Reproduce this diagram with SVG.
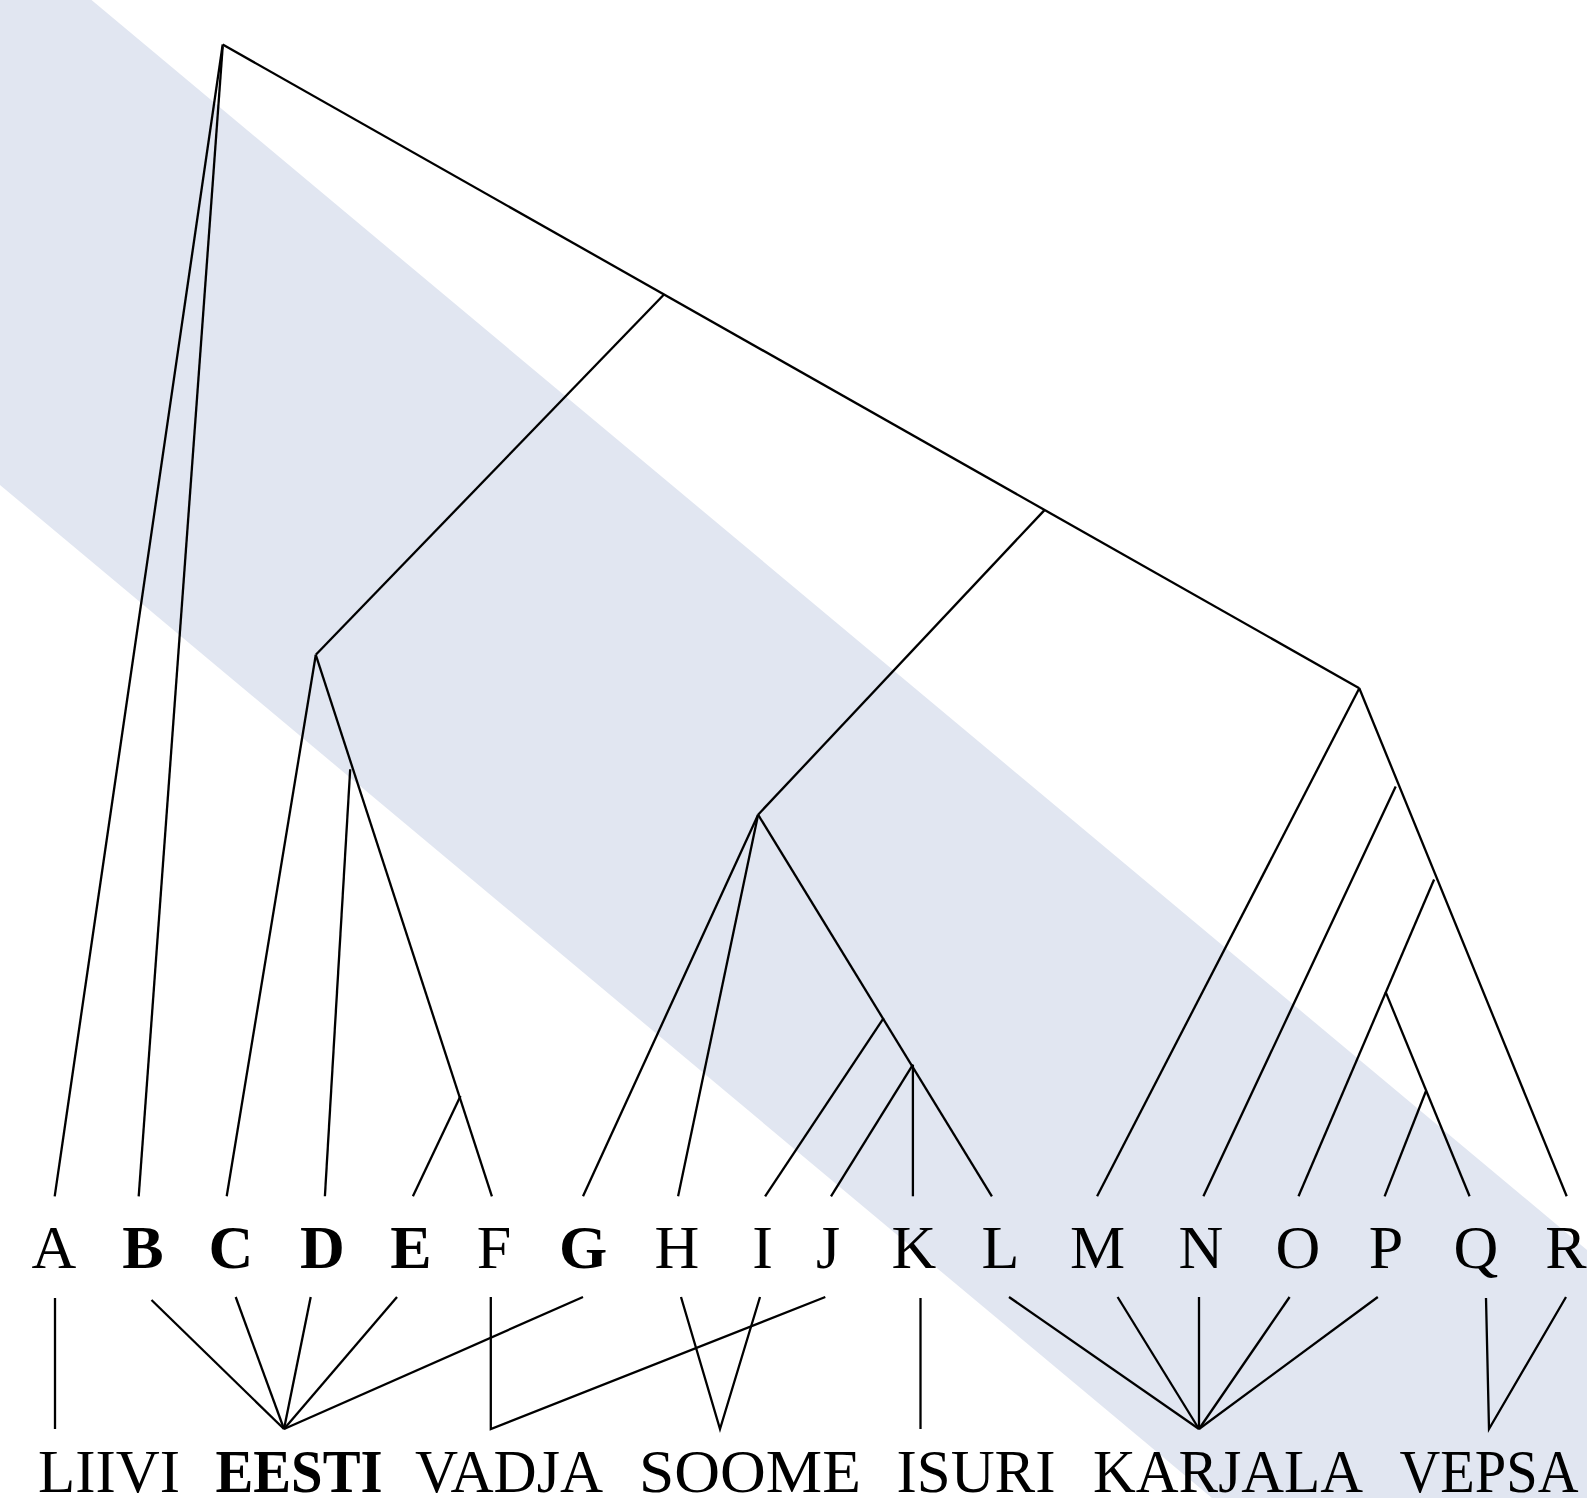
<svg xmlns="http://www.w3.org/2000/svg" width="1587" height="1498" viewBox="0 0 1587 1498">
<style>
.ln{stroke:#000;stroke-width:2.3;fill:none;stroke-linecap:butt}
.lt{font-family:"Liberation Serif","Times New Roman",serif;font-size:62px;fill:#000;text-anchor:middle}
.b{font-weight:bold}
.lang{font-family:"Liberation Serif","Times New Roman",serif;font-size:62px;fill:#000;text-anchor:middle}
</style>
<rect width="1587" height="1498" fill="#ffffff"/>
<polygon id="band" points="0,0 91.5,0 1587,1250 1587,1498 1212,1498 0,485" fill="#e1e6f1"/>
<g id="connectors">
<line class="ln" x1="222.7" y1="44.5" x2="1359.3" y2="688.2"/>
<line class="ln" x1="222.7" y1="44.5" x2="54.7" y2="1196.3"/>
<line class="ln" x1="222.7" y1="46.5" x2="138.7" y2="1196.3"/>
<line class="ln" x1="664" y1="294.5" x2="315.8" y2="654.8"/>
<line class="ln" x1="315.8" y1="654.8" x2="226.7" y2="1196.3"/>
<line class="ln" x1="315.8" y1="654.8" x2="491.9" y2="1196.3"/>
<line class="ln" x1="350.2" y1="769.2" x2="324.9" y2="1196.3"/>
<line class="ln" x1="460.5" y1="1096.1" x2="412.9" y2="1196.3"/>
<line class="ln" x1="1044.5" y1="510.1" x2="758.1" y2="814.7"/>
<line class="ln" x1="758.1" y1="814.7" x2="583" y2="1196.3"/>
<line class="ln" x1="758.1" y1="814.7" x2="678.1" y2="1196.3"/>
<line class="ln" x1="758.1" y1="814.7" x2="991.9" y2="1196.3"/>
<line class="ln" x1="883.6" y1="1018.2" x2="765.1" y2="1196.3"/>
<line class="ln" x1="912.9" y1="1064.7" x2="831" y2="1196.3"/>
<line class="ln" x1="912.9" y1="1064.7" x2="912.9" y2="1196.3"/>
<line class="ln" x1="1359.3" y1="688.2" x2="1097.1" y2="1196.3"/>
<line class="ln" x1="1359.3" y1="688.2" x2="1566.7" y2="1196.3"/>
<line class="ln" x1="1395.7" y1="786.4" x2="1203.4" y2="1196.3"/>
<line class="ln" x1="1434.1" y1="879.5" x2="1298.5" y2="1196.3"/>
<line class="ln" x1="1385.6" y1="991.9" x2="1469.6" y2="1196.3"/>
<line class="ln" x1="1426" y1="1091" x2="1384.6" y2="1196.3"/>
<line class="ln" x1="55" y1="1298" x2="55" y2="1429"/>
<line class="ln" x1="151.5" y1="1300" x2="284" y2="1429"/>
<line class="ln" x1="235.7" y1="1297" x2="284" y2="1429"/>
<line class="ln" x1="310.7" y1="1297" x2="284" y2="1429"/>
<line class="ln" x1="397" y1="1297" x2="284" y2="1429"/>
<line class="ln" x1="583" y1="1297" x2="284" y2="1429"/>
<polyline class="ln" points="490.8,1297 490.8,1429 825.3,1297"/>
<polyline class="ln" points="681,1297 720,1429 760,1297"/>
<line class="ln" x1="920.5" y1="1298" x2="920.5" y2="1429"/>
<line class="ln" x1="1009" y1="1297" x2="1199" y2="1429"/>
<line class="ln" x1="1117.6" y1="1297" x2="1199" y2="1429"/>
<line class="ln" x1="1199" y1="1297" x2="1199" y2="1429"/>
<line class="ln" x1="1289.6" y1="1297" x2="1199" y2="1429"/>
<line class="ln" x1="1377.8" y1="1297" x2="1199" y2="1429"/>
<polyline class="ln" points="1486,1298 1489,1429 1566,1297"/>
</g>
<g id="node-A"><text class="lt" x="54" y="1268">A</text></g>
<g id="node-B"><text class="lt b" x="143" y="1268">B</text></g>
<g id="node-C"><text class="lt b" x="231" y="1268">C</text></g>
<g id="node-D"><text class="lt b" x="322.5" y="1268">D</text></g>
<g id="node-E"><text class="lt b" x="411" y="1268">E</text></g>
<g id="node-F"><text class="lt" x="494" y="1268">F</text></g>
<g id="node-G"><text class="lt b" x="583" y="1268">G</text></g>
<g id="node-H"><text class="lt" x="677" y="1268">H</text></g>
<g id="node-I"><text class="lt" x="762.5" y="1268">I</text></g>
<g id="node-J"><text class="lt" x="828" y="1268">J</text></g>
<g id="node-K"><text class="lt" x="914" y="1268">K</text></g>
<g id="node-L"><text class="lt" x="1000.5" y="1268">L</text></g>
<g id="node-M"><text class="lt" x="1097.5" y="1268">M</text></g>
<g id="node-N"><text class="lt" x="1201" y="1268">N</text></g>
<g id="node-O"><text class="lt" x="1298" y="1268">O</text></g>
<g id="node-P"><text class="lt" x="1386" y="1268">P</text></g>
<g id="node-Q"><text class="lt" x="1476" y="1268">Q</text></g>
<g id="node-R"><text class="lt" x="1566" y="1268">R</text></g>
<g id="lang-LIIVI"><text class="lang" x="109" y="1492" textLength="142" lengthAdjust="spacingAndGlyphs">LIIVI</text></g>
<g id="lang-EESTI"><text class="lang b" x="299" y="1492" textLength="167" lengthAdjust="spacingAndGlyphs">EESTI</text></g>
<g id="lang-VADJA"><text class="lang" x="509" y="1492" textLength="188" lengthAdjust="spacingAndGlyphs">VADJA</text></g>
<g id="lang-SOOME"><text class="lang" x="750" y="1492" textLength="222" lengthAdjust="spacingAndGlyphs">SOOME</text></g>
<g id="lang-ISURI"><text class="lang" x="976" y="1492" textLength="159" lengthAdjust="spacingAndGlyphs">ISURI</text></g>
<g id="lang-KARJALA"><text class="lang" x="1228" y="1492" textLength="270" lengthAdjust="spacingAndGlyphs">KARJALA</text></g>
<g id="lang-VEPSA"><text class="lang" x="1489" y="1492" textLength="179" lengthAdjust="spacingAndGlyphs">VEPSA</text></g>
</svg>
